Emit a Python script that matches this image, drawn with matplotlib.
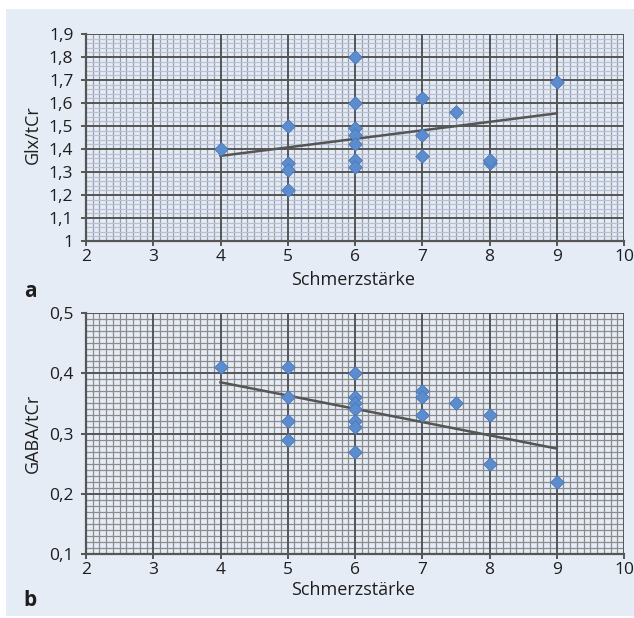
import matplotlib
matplotlib.use("Agg")
import matplotlib.pyplot as plt
from matplotlib.patches import Rectangle
from matplotlib.ticker import MultipleLocator, FuncFormatter

# ---- data ----
glx_x = [4, 5, 5, 5, 5, 6, 6, 6, 6, 6, 6, 6, 7, 7, 7, 7.5, 8, 8, 9]
glx_y = [1.40, 1.50, 1.34, 1.31, 1.22, 1.80, 1.60, 1.49, 1.46, 1.42, 1.35, 1.32,
         1.62, 1.46, 1.37, 1.56, 1.34, 1.35, 1.69]
gaba_x = [4, 5, 5, 5, 5, 6, 6, 6, 6, 6, 6, 6, 7, 7, 7, 7.5, 8, 8, 9]
gaba_y = [0.41, 0.41, 0.36, 0.32, 0.29, 0.40, 0.36, 0.35, 0.34, 0.32, 0.31, 0.27,
          0.37, 0.36, 0.33, 0.35, 0.33, 0.25, 0.22]
trend_x = [4, 9]
trend_glx = [1.37, 1.555]
trend_gaba = [0.385, 0.275]
xlabel = "Schmerzstärke"
ylabel_a = "Glx/tCr"
ylabel_b = "GABA/tCr"

FONT = "Open Sans"
plt.rcParams['font.family'] = [FONT, 'DejaVu Sans']

W, H = 634, 618
fig = plt.figure(figsize=(W / 100, H / 100), dpi=100)
fig.patch.set_facecolor("white")
BG = "#e6ecf6"
fig.add_artist(Rectangle((6 / W, 1 - 616 / H), (W - 6) / W, (616 - 9) / H,
                         transform=fig.transFigure, facecolor=BG, edgecolor="none", zorder=0))

def px(l, t, r, b):
    return [l / W, 1 - b / H, (r - l) / W, (b - t) / H]

def comma(v, pos):
    s = f"{v:.1f}".replace(".", ",")
    if s.endswith(",0"):
        s = s[:-2]
    return s

MAJ = "#555555"
TXT = "#1e1e1e"

def setup(ax, ylo, yhi, ymaj, ymin, xminor_col, yminor_col):
    ax.set_facecolor(BG)
    ax.set_xlim(2, 10)
    ax.set_ylim(ylo, yhi)
    ax.xaxis.set_major_locator(MultipleLocator(1))
    ax.xaxis.set_minor_locator(MultipleLocator(0.1))
    ax.yaxis.set_major_locator(MultipleLocator(ymaj))
    ax.yaxis.set_minor_locator(MultipleLocator(ymin))
    ax.yaxis.set_major_formatter(FuncFormatter(comma))
    ax.xaxis.grid(True, which="minor", color=xminor_col, linewidth=0.9)
    ax.yaxis.grid(True, which="minor", color=yminor_col, linewidth=0.9)
    ax.set_axisbelow(True)
    # major grid drawn on top of the minor grid
    for v in ax.get_xticks():
        if 2 < v <= 10:
            ax.axvline(v, color=MAJ, linewidth=1.4, zorder=1.5)
    for v in ax.get_yticks():
        if ylo < v <= yhi + 1e-9:
            ax.axhline(v, color=MAJ, linewidth=1.4, zorder=1.5)
    for s in ["top", "right"]:
        ax.spines[s].set_visible(False)
    for s in ["left", "bottom"]:
        ax.spines[s].set_color(MAJ)
        ax.spines[s].set_linewidth(1.6)
    ax.tick_params(which="major", direction="out", length=3.6, width=1.4, color=MAJ,
                   labelsize=12.5, labelcolor=TXT)
    ax.tick_params(axis="y", which="major", pad=5.5)
    ax.tick_params(axis="x", which="major", pad=2.5)
    ax.tick_params(which="minor", length=0)

ax1 = fig.add_axes(px(86, 34, 624, 241))
setup(ax1, 1.0, 1.9, 0.1, 0.02, "#9a9ea8", "#b9c2d3")
ax1.plot(trend_x, trend_glx, color=MAJ, linewidth=1.8, zorder=3)
ax1.scatter(glx_x, glx_y, marker="D", s=48, color="#5b8dce", edgecolor="#4a78b8",
            linewidth=0.6, zorder=4, clip_on=False)

ax2 = fig.add_axes(px(86, 313, 624, 554))
setup(ax2, 0.1, 0.5, 0.1, 0.01, "#8c8c8c", "#8c8c8c")
ax2.plot(trend_x, trend_gaba, color=MAJ, linewidth=1.8, zorder=3)
ax2.scatter(gaba_x, gaba_y, marker="D", s=48, color="#5b8dce", edgecolor="#4a78b8",
            linewidth=0.6, zorder=4, clip_on=False)

# labels
fig.text(353 / W, 1 - 280 / H, xlabel, ha="center", va="center", fontsize=13, color=TXT)
fig.text(353 / W, 1 - 590 / H, xlabel, ha="center", va="center", fontsize=13, color=TXT)
fig.text(33 / W, 1 - 135 / H, ylabel_a, ha="center", va="center", rotation=90, fontsize=13, color=TXT)
fig.text(33 / W, 1 - 433 / H, ylabel_b, ha="center", va="center", rotation=90, fontsize=13, color=TXT)
fig.text(30 / W, 1 - 292 / H, "a", ha="center", va="center", fontsize=15, fontweight="bold", color=TXT)
fig.text(30 / W, 1 - 601 / H, "b", ha="center", va="center", fontsize=15, fontweight="bold", color=TXT)

fig.savefig("out.png", dpi=100)
